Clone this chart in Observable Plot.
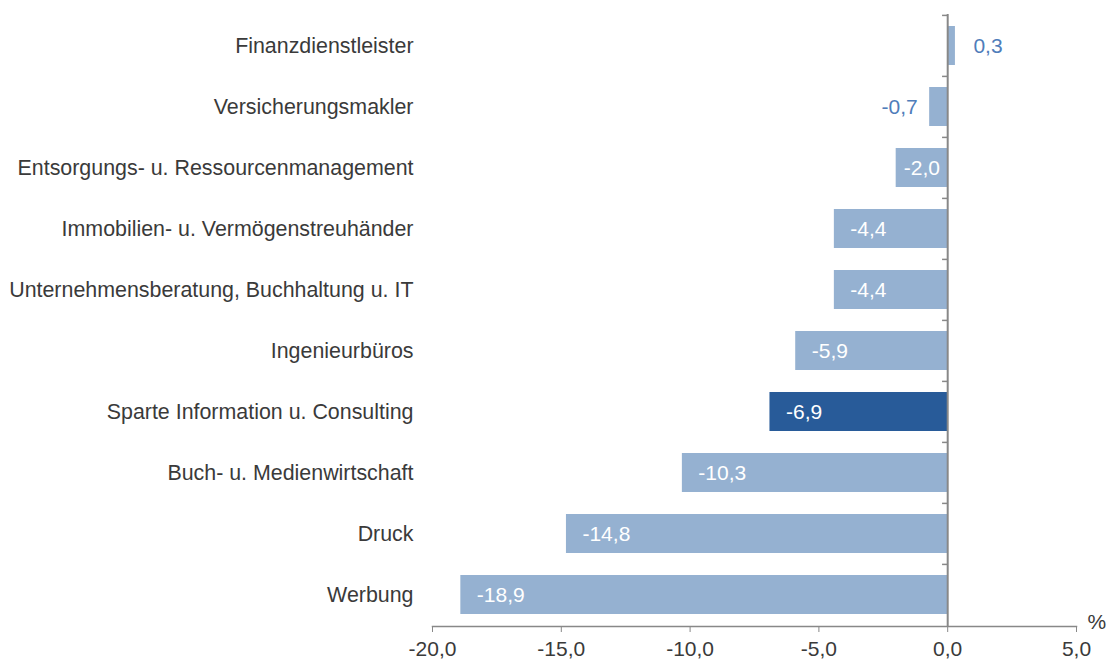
<!DOCTYPE html>
<html>
<head>
<meta charset="utf-8">
<script src="https://cdn.jsdelivr.net/npm/d3@7"></script>
<script src="https://cdn.jsdelivr.net/npm/@observablehq/plot@0.6"></script>
<style>
  html, body { margin: 0; padding: 0; background: #fff; }
  #chart svg { display: block; }
</style>
</head>
<body>
<div id="chart"></div>
<script>
const categories = [
  "Finanzdienstleister",
  "Versicherungsmakler",
  "Entsorgungs- u. Ressourcenmanagement",
  "Immobilien- u. Vermögenstreuhänder",
  "Unternehmensberatung, Buchhaltung u. IT",
  "Ingenieurbüros",
  "Sparte Information u. Consulting",
  "Buch- u. Medienwirtschaft",
  "Druck",
  "Werbung"
];
const values = [0.3, -0.7, -2.0, -4.4, -4.4, -5.9, -6.9, -10.3, -14.8, -18.9];
const highlight = "Sparte Information u. Consulting";
const xTicks = [-20, -15, -10, -5, 0, 5];
const unitLabel = "%";

const data = categories.map((c, i) => ({category: c, value: values[i]}));
const fmt = v => v.toFixed(1).replace(".", ",");

const lightBar = "#95B1D1";
const darkBar = "#285B99";
const labelBlue = "#4F7DBA";
const textColor = "#3a3a3a";
const axisColor = "#888888";
const font = "Liberation Sans, Arial, sans-serif";

const outside = data.filter(d => Math.abs(d.value) < 1);
const centered = data.filter(d => Math.abs(d.value) >= 1 && Math.abs(d.value) < 3);
const insideEnd = data.filter(d => Math.abs(d.value) >= 3);

const chart = Plot.plot({
  width: 1109,
  height: 664,
  marginLeft: 432,
  marginRight: 33,
  marginTop: 14,
  marginBottom: 38,
  style: {fontFamily: font, fontSize: "21px", color: textColor, background: "#fff"},
  x: {domain: [-20, 5], label: null},
  y: {domain: categories, paddingInner: 0.36, paddingOuter: 0.18, label: null},
  color: {type: "identity"},
  marks: [
    Plot.barX(data, {
      x: "value", y: "category",
      fill: d => d.category === highlight ? darkBar : lightBar
    }),
    Plot.axisY({tickSize: 0, tickPadding: 19, fontSize: 21.4, fill: textColor, label: null}),
    Plot.axisX({
      ticks: xTicks, tickSize: 6, tickPadding: 9, stroke: axisColor, strokeOpacity: 1,
      fill: textColor, fontSize: 21, tickFormat: fmt, label: null
    }),
    Plot.frame({anchor: "bottom", stroke: axisColor, strokeWidth: 1.5}),
    Plot.ruleX([0], {stroke: axisColor, strokeWidth: 2}),
    Plot.ruleY(categories, {
      y: d => d, x1: -0.2, x2: 0, dy: -30.6, stroke: axisColor, strokeWidth: 1.5
    }),
    Plot.text(insideEnd, {
      x: "value", y: "category", text: d => fmt(d.value),
      textAnchor: "start", dx: 16, fill: "white", fontSize: 21
    }),
    Plot.text(centered, {
      x: d => d.value / 2, y: "category", text: d => fmt(d.value),
      textAnchor: "middle", fill: "white", fontSize: 21
    }),
    Plot.text(outside.filter(d => d.value >= 0), {
      x: "value", y: "category", text: d => fmt(d.value),
      textAnchor: "start", dx: 18, fill: labelBlue, fontSize: 21
    }),
    Plot.text(outside.filter(d => d.value < 0), {
      x: "value", y: "category", text: d => fmt(d.value),
      textAnchor: "end", dx: -12, fill: labelBlue, fontSize: 21
    }),
    Plot.text([unitLabel], {
      frameAnchor: "bottom-right", text: d => d, textAnchor: "start",
      dx: 11, dy: 2, fill: textColor, fontSize: 21
    })
  ]
});
document.getElementById("chart").appendChild(chart);
</script>
</body>
</html>
